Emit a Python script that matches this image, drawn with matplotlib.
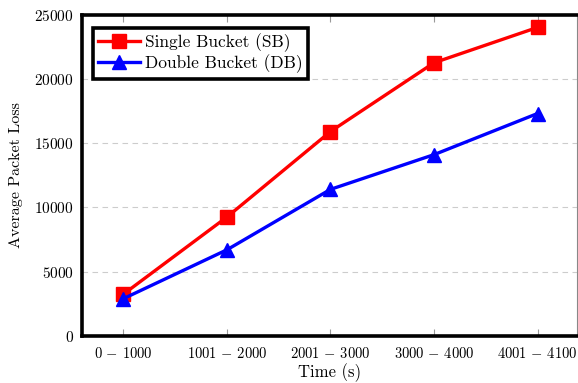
import matplotlib.pyplot as plt
import numpy as np

plt.rcParams['font.family'] = 'serif'
plt.rcParams['font.serif'] = ['cmr10']
plt.rcParams['mathtext.fontset'] = 'cm'
plt.rcParams['axes.formatter.use_mathtext'] = True
plt.rcParams['axes.unicode_minus'] = False

intervals = [r'$0\,-\,1000$', r'$1001\,-\,2000$', r'$2001\,-\,3000$',
             r'$3000\,-\,4000$', r'$4001\,-\,4100$']
single_bucket = [3250, 9250, 15900, 21250, 24000]
double_bucket = [2900, 6700, 11400, 14100, 17300]

fig = plt.figure(figsize=(5.78, 3.83), dpi=100)
ax = fig.add_axes([0.142, 0.123, 0.856, 0.839])

x = np.arange(len(intervals))
ax.plot(x, single_bucket, color='#ff0000', lw=2.4, marker='s', ms=10,
        label='Single Bucket (SB)')
ax.plot(x, double_bucket, color='#0000ff', lw=2.4, marker='^', ms=10,
        label='Double Bucket (DB)')

ax.set_xlim(-0.4, 4.38)
ax.set_ylim(0, 25000)
ax.set_xticks(x)
ax.set_xticklabels(intervals)
ax.set_yticks(np.arange(0, 25001, 5000))

ax.yaxis.grid(True, ls=(0, (5, 4)), color='#cccccc', lw=0.8)
ax.set_axisbelow(True)

ax.tick_params(axis='x', direction='in', top=True, length=5, width=0.8,
               color='#999999', labelsize=10.5, pad=7)
ax.tick_params(axis='y', direction='in', length=0, labelsize=11, pad=6)

for side in ['left', 'bottom', 'top']:
    ax.spines[side].set_linewidth(2.6)
    ax.spines[side].set_color('black')
ax.spines['right'].set_linewidth(0.8)
ax.spines['right'].set_color('#888888')

ax.set_xlabel('Time (s)', fontsize=12, labelpad=2)
ax.set_ylabel('Average Packet Loss', fontsize=11.5, labelpad=8)

leg = ax.legend(loc='upper left', fontsize=12.5, fancybox=False, framealpha=1,
                edgecolor='black', borderpad=0.3, handlelength=2.4,
                handletextpad=0.3, labelspacing=0.15,
                bbox_to_anchor=(0.005, 0.985))
leg.get_frame().set_linewidth(2.6)

fig.savefig('out.png', dpi=100)
